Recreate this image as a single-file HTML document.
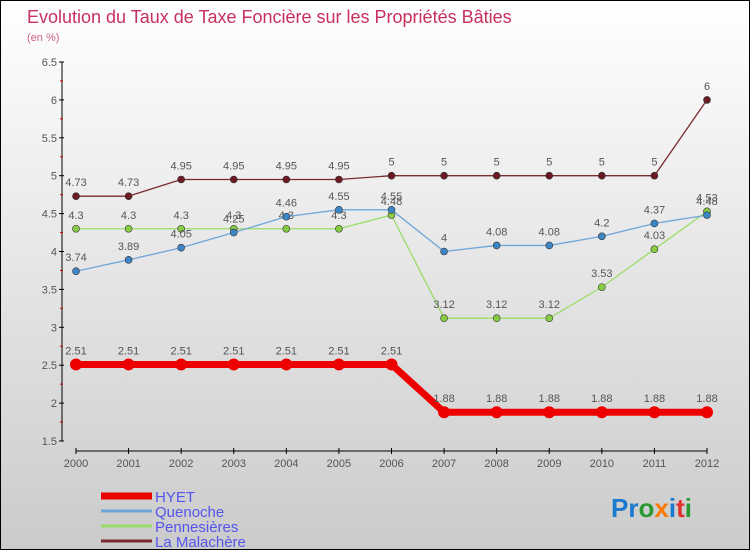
<!DOCTYPE html>
<html><head><meta charset="utf-8"><style>
body{margin:0}
#c{position:relative;width:748px;height:548px;border:1px solid #000;background:linear-gradient(#fff,#cbcbcb);font-family:"Liberation Sans",sans-serif;overflow:hidden}
svg{position:absolute;left:0;top:0}
</style></head><body>
<div id="c">
<svg id="s" width="750" height="550">
<text x="26" y="22" font-size="18" fill="#c8305e">Evolution du Taux de Taxe Foncière sur les Propriétés Bâties</text>
<text x="26" y="40" font-size="11" fill="#d0608a">(en %)</text>
<text x="610" y="516" font-size="26" font-weight="bold" fill="#1a7ad0">Pr<tspan fill="#2a9a30">o</tspan><tspan fill="#ff7a00">x</tspan><tspan fill="#1a7ad0">i</tspan><tspan fill="#e03030">t</tspan><tspan fill="#2a9a30">i</tspan></text>
</svg>
</div>
<script>
const years=[2000,2001,2002,2003,2004,2005,2006,2007,2008,2009,2010,2011,2012];
const yTicks=[1.5,2,2.5,3,3.5,4,4.5,5,5.5,6,6.5];
const hyet=[2.51,2.51,2.51,2.51,2.51,2.51,2.51,1.88,1.88,1.88,1.88,1.88,1.88];
const quenoche=[3.74,3.89,4.05,4.25,4.46,4.55,4.55,4,4.08,4.08,4.2,4.37,4.48];
const pennesieres=[4.3,4.3,4.3,4.3,4.3,4.3,4.48,3.12,3.12,3.12,3.53,4.03,4.53];
const malachere=[4.73,4.73,4.95,4.95,4.95,4.95,5,5,5,5,5,5,6];
const series=[
 {name:'la-malachere',label:'La Malachère',vals:malachere,col:'#7a2a30',dot:'#6a1a20',w:1.3,r:3.5},
 {name:'pennesieres',label:'Pennesières',vals:pennesieres,col:'#99dd66',dot:'#88cc44',w:1.3,r:3.5},
 {name:'quenoche',label:'Quenoche',vals:quenoche,col:'#6fa6d8',dot:'#3c86c6',w:1.3,r:3.5},
 {name:'hyet',label:'HYET',vals:hyet,col:'#ee0000',dot:'#ee0000',w:7,r:6}];
const X=i=>75+i*(706-75)/(years.length-1);
const Y=v=>61+(6.5-v)*75.8;
const s=document.getElementById('s');const NS='http://www.w3.org/2000/svg';
function el(t,a,txt){const e=document.createElementNS(NS,t);for(const k in a)e.setAttribute(k,a[k]);if(txt!=null)e.textContent=txt;s.appendChild(e);return e;}
let e=el('line',{x1:61,y1:61,x2:61,y2:440,stroke:'#000'});


yTicks.forEach((v,k)=>{el('line',{x1:58,x2:63,y1:Y(v),y2:Y(v),stroke:'#000'});
 if(k<yTicks.length-1)el('line',{x1:59,x2:62,y1:Y(v+0.25),y2:Y(v+0.25),stroke:'#c00'});
 const t=el('text',{x:56,y:Y(v)+4,'font-size':11,fill:'#555','text-anchor':'end'},String(v));
 
 });
e=el('line',{x1:75,y1:450,x2:706,y2:450,stroke:'#000'});


years.forEach((y,i)=>{el('line',{x1:X(i),x2:X(i),y1:447,y2:453,stroke:'#000'});
 const t=el('text',{x:X(i),y:466,'font-size':11,fill:'#555','text-anchor':'middle'},String(y));
 
 });
series.forEach(sr=>{
 const p=el('polyline',{points:sr.vals.map((v,i)=>X(i)+','+Y(v)).join(' '),fill:'none',stroke:sr.col,'stroke-width':sr.w,'stroke-linejoin':'round'});
 
 
 sr.vals.forEach((v,i)=>{const c=el('circle',{cx:X(i),cy:Y(v),r:sr.r,fill:sr.dot,stroke:'#333','stroke-width':sr.w>2?0:0.6});
  
  
  const t=el('text',{x:X(i),y:Y(v)-10,'font-size':11,fill:'#555','text-anchor':'middle'},String(v));
  
  });
});
[...series].reverse().forEach((sr,k)=>{const y=495+k*15;
 const l=el('line',{x1:100,x2:151,y1:y,y2:y,stroke:sr.col,'stroke-width':sr.w>2?7:3});
 
 
 const t=el('text',{x:154,y:y+6,'font-size':15,fill:'#5555ee'},sr.label);
 
 });
</script>
</body></html>
